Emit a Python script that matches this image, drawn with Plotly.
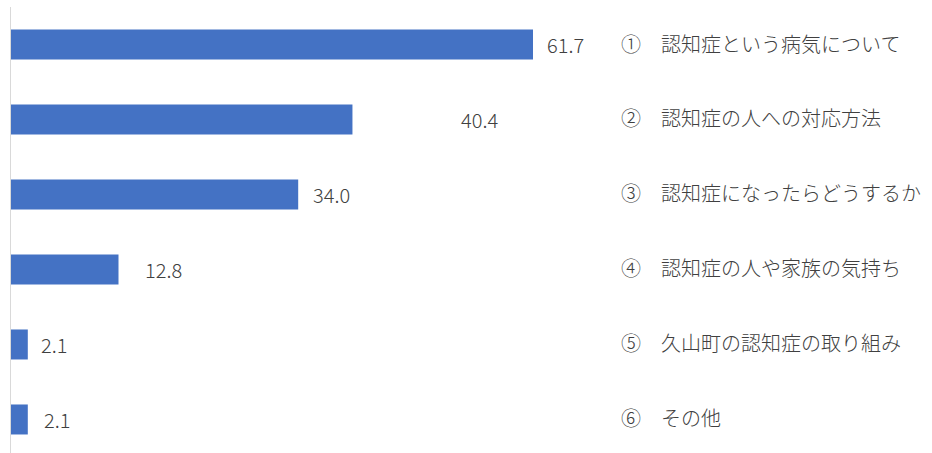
import plotly.graph_objects as go

categories = [
    "①　認知症という病気について",
    "②　認知症の人への対応方法",
    "③　認知症になったらどうするか",
    "④　認知症の人や家族の気持ち",
    "⑤　久山町の認知症の取り組み",
    "⑥　その他",
]
values = [61.7, 40.4, 34.0, 12.8, 2.1, 2.1]
value_labels = ["61.7", "40.4", "34.0", "12.8", "2.1", "2.1"]
label_shift = [12, 107, 13, 24, 11, 14]

FONT = "Noto Sans CJK JP"
TXT = "#404040"

fig = go.Figure()
fig.add_trace(go.Bar(
    x=values, y=categories, orientation="h",
    marker=dict(color="#4472C4", line=dict(width=0)),
    width=0.4, hoverinfo="skip",
))

for v, lab, s, c in zip(values, value_labels, label_shift, categories):
    fig.add_annotation(x=v, y=c, text=lab, showarrow=False,
                       xanchor="left", yanchor="middle", xshift=s,
                       font=dict(family=FONT, size=20, color=TXT, weight=300))

fig.add_shape(type="line", xref="x", yref="paper", x0=0, x1=0, y0=0, y1=1,
              line=dict(color="#d9d9d9", width=2))

fig.update_layout(
    width=932, height=453,
    margin=dict(l=10, r=320, t=7, b=0),
    plot_bgcolor="white", paper_bgcolor="white",
    showlegend=False,
    xaxis=dict(range=[0, 71.02], visible=False, fixedrange=True),
    yaxis=dict(
        type="category", categoryorder="array", categoryarray=categories,
        range=[5.447, -0.5], side="right", showline=False, showgrid=False,
        zeroline=False, ticks="", ticklabelstandoff=8,
        tickfont=dict(family=FONT, size=20, color=TXT, weight=300),
        fixedrange=True,
    ),
    font=dict(family=FONT),
)

fig.write_html("out.html")
